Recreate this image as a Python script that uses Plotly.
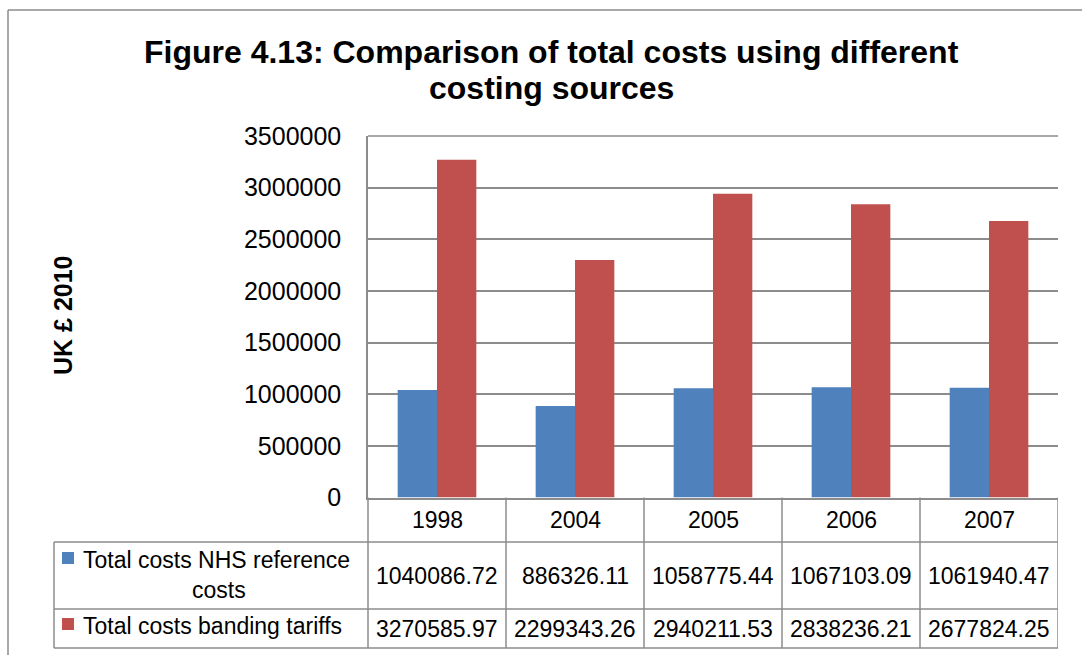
import plotly.graph_objects as go

# Source data
years = ["1998", "2004", "2005", "2006", "2007"]
nhs_reference_costs = [1040086.72, 886326.11, 1058775.44, 1067103.09, 1061940.47]
banding_tariffs = [3270585.97, 2299343.26, 2940211.53, 2838236.21, 2677824.25]
series_names = ["Total costs NHS reference costs", "Total costs banding tariffs"]
y_ticks = [0, 500000, 1000000, 1500000, 2000000, 2500000, 3000000, 3500000]

BLUE = "#4F81BD"
RED = "#C0504D"
GRID = "#8C8C8C"
FONT = "Liberation Sans, Arial, sans-serif"

W, H = 1082, 655


def px(x):
    return x / W


def py(y):
    return 1 - y / H


# pixel layout of the plot area and data table
PLOT_L, PLOT_R, PLOT_T, PLOT_B = 368, 1058, 136, 497.5
ROW1, ROW2, ROW3 = 542, 609, 648
TABLE_L = 54

fig = go.Figure()
fig.add_trace(go.Bar(x=years, y=nhs_reference_costs, name=series_names[0],
                     marker=dict(color=BLUE, line=dict(width=0))))
fig.add_trace(go.Bar(x=years, y=banding_tariffs, name=series_names[1],
                     marker=dict(color=RED, line=dict(width=0))))

shapes = []
line = dict(color=GRID, width=1.5)

# outer chart border (left and top edges)
shapes.append(dict(type="line", xref="paper", yref="paper",
                   x0=px(8), x1=1, y0=py(10), y1=py(10), line=line))
shapes.append(dict(type="line", xref="paper", yref="paper",
                   x0=px(8), x1=px(8), y0=py(10), y1=0, line=line))

# top edge of the plot area
shapes.append(dict(type="line", xref="paper", yref="paper",
                   x0=px(PLOT_L), x1=px(PLOT_R), y0=py(PLOT_T), y1=py(PLOT_T), line=line))

# table horizontal rules
for yy in (ROW1, ROW2, ROW3):
    shapes.append(dict(type="line", xref="paper", yref="paper",
                       x0=px(TABLE_L), x1=px(PLOT_R), y0=py(yy), y1=py(yy), line=line))
# table vertical rules
shapes.append(dict(type="line", xref="paper", yref="paper",
                   x0=px(TABLE_L), x1=px(TABLE_L), y0=py(ROW1), y1=py(ROW3), line=line))
shapes.append(dict(type="line", xref="paper", yref="paper",
                   x0=px(PLOT_L), x1=px(PLOT_L), y0=py(PLOT_B), y1=py(ROW3), line=line))
for k in range(1, len(years) + 1):
    shapes.append(dict(type="line", xref="x", yref="paper",
                       x0=k - 0.5, x1=k - 0.5, y0=py(PLOT_B), y1=py(ROW3), line=line))

# legend keys inside the table
shapes.append(dict(type="rect", xref="paper", yref="paper", line=dict(width=0),
                   x0=px(62), x1=px(74), y0=py(564), y1=py(552), fillcolor=BLUE))
shapes.append(dict(type="rect", xref="paper", yref="paper", line=dict(width=0),
                   x0=px(62), x1=px(74), y0=py(630), y1=py(618), fillcolor=RED))

ann = []
tfont = dict(family=FONT, size=23, color="#000000")

# category row and value rows
for i, yr in enumerate(years):
    ann.append(dict(x=i, y=py(520), xref="x", yref="paper", text=yr,
                    showarrow=False, font=tfont, xanchor="center", yanchor="middle"))
    ann.append(dict(x=i, y=py(576), xref="x", yref="paper",
                    text=f"{nhs_reference_costs[i]:.2f}",
                    showarrow=False, font=tfont, xanchor="center", yanchor="middle"))
    ann.append(dict(x=i, y=py(629), xref="x", yref="paper",
                    text=f"{banding_tariffs[i]:.2f}",
                    showarrow=False, font=tfont, xanchor="center", yanchor="middle"))

# row headers
ann.append(dict(x=px(81), y=py(560), xref="paper", yref="paper",
                text="Total costs NHS reference", showarrow=False, font=tfont,
                xanchor="left", yanchor="middle"))
ann.append(dict(x=px(219), y=py(590), xref="paper", yref="paper",
                text="costs", showarrow=False, font=tfont,
                xanchor="center", yanchor="middle"))
ann.append(dict(x=px(81), y=py(626), xref="paper", yref="paper",
                text=series_names[1], showarrow=False, font=tfont,
                xanchor="left", yanchor="middle"))

# chart title
title_font = dict(family=FONT, size=32, color="#000000")
ann.append(dict(x=px(551), y=py(52), xref="paper", yref="paper",
                text="<b>Figure 4.13: Comparison of total costs using different</b>",
                showarrow=False, font=title_font, xanchor="center", yanchor="middle"))
ann.append(dict(x=px(551), y=py(88), xref="paper", yref="paper",
                text="<b>costing sources</b>",
                showarrow=False, font=title_font, xanchor="center", yanchor="middle"))

# value axis title
ann.append(dict(x=px(63), y=py(315), xref="paper", yref="paper",
                text="<b>UK £ 2010</b>", textangle=-90, showarrow=False,
                font=dict(family=FONT, size=25, color="#000000"),
                xanchor="center", yanchor="middle"))

fig.update_layout(
    width=W, height=H,
    margin=dict(l=0, r=0, t=0, b=0, autoexpand=False),
    paper_bgcolor="white", plot_bgcolor="white",
    barmode="group", bargap=0.43, bargroupgap=0,
    showlegend=False,
    shapes=shapes, annotations=ann,
    font=dict(family=FONT, color="#000000"),
    xaxis=dict(type="category", range=[-0.5, len(years) - 0.5],
               domain=[px(PLOT_L), px(PLOT_R)], showticklabels=False,
               showgrid=False, zeroline=False, showline=True,
               linecolor=GRID, linewidth=1.5, ticks="", automargin=False),
    yaxis=dict(domain=[py(PLOT_B), py(PLOT_T)], range=[0, 3500000],
               tickvals=y_ticks, ticktext=[str(v) for v in y_ticks],
               tickfont=dict(family=FONT, size=25, color="#000000"),
               showgrid=True, gridcolor=GRID, gridwidth=1.5,
               zeroline=False, showline=True, linecolor=GRID, linewidth=1.5,
               ticks="", ticklabelstandoff=20, automargin=False),
)

fig.write_html("out.html")
